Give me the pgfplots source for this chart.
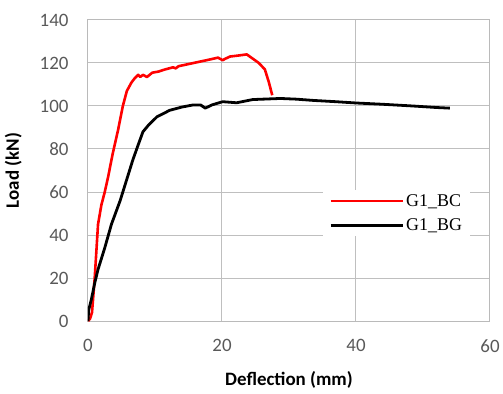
\documentclass[border=0pt]{standalone}
\usepackage{pgfplots}
\pgfplotsset{compat=1.18}
\usepackage{fontspec}
\setmainfont{Carlito}
\newfontfamily\legfont{Liberation Serif}
\colorlet{gridc}{black!25}
\colorlet{axc}{black!27}
\colorlet{tickc}{black!65}
\begin{document}
\begin{tikzpicture}
\path[use as bounding box] (-88bp,-73bp) rectangle (415bp,321bp);
\begin{axis}[
  at={(0,0)}, anchor=south west,
  scale only axis, width=402bp, height=301bp,
  xmin=0, xmax=60, ymin=0, ymax=140,
  xtick={0,20,40,60}, ytick={0,20,40,60,80,100,120,140},
  grid=major,
  grid style={draw=gridc, line width=1bp},
  axis line style={draw=axc, line width=1bp},
  major tick length=0pt,
  ticklabel style={font=\fontsize{19}{22}\selectfont, text=tickc},
  /pgf/number format/assume math mode=true,
  xticklabel style={yshift=-15bp},
  yticklabel style={xshift=-16bp},
  xlabel={\bfseries Deflection (mm)},
  ylabel={\bfseries Load (kN)},
  label style={font=\fontsize{19}{22}\selectfont\bfseries},
  xlabel style={yshift=-12bp},
  ylabel style={yshift=11bp},
  legend style={at={(0.585,0.435)}, anchor=north west, draw=none, fill=white,
    font=\legfont\fontsize{18}{21}\selectfont, row sep=7bp, inner xsep=6bp},
  legend cell align=left,
  legend image code/.code={\draw[#1] (0bp,0bp) -- (57bp,0bp); \path (0bp,0bp) -- (72bp,0bp);},
]
\addplot[red, line width=2.6bp, line join=round] coordinates {
(0,0) (0.3,1) (0.6,4) (0.8,12) (1.0,20) (1.3,35) (1.5,45) (2.0,54) (2.5,60)
(3.0,67) (3.7,78) (4.5,89) (5.2,100) (5.8,107) (6.5,111) (7.0,113) (7.5,114.5)
(7.8,113.5) (8.2,114.5) (8.8,113.5) (9.6,115.5) (10.5,116) (11.5,117) (12.7,118)
(13.1,117.5) (13.5,118.5) (15,119.5) (16.5,120.5) (18,121.5) (19.4,122.5)
(20.1,121.3) (20.5,122) (21.2,123) (22.5,123.5) (23.7,124) (24.6,122) (25.5,120)
(26.4,117) (27,111) (27.5,105)
};
\addlegendentry{G1\_BC}
\addplot[black, line width=2.8bp, line join=round] coordinates {
(0,0) (0.1,5) (0.5,10) (1,17.6) (1.5,24) (2.5,34) (3.5,45) (4.8,56) (5.7,65)
(6.7,75) (7.5,82) (8.2,88) (9,91) (10.3,95) (12.2,98) (14,99.5) (15.7,100.5)
(16.8,100.5) (17.5,99) (18.5,100.5) (20.1,102) (22.2,101.5) (24.6,103) (28.7,103.5)
(31,103.2) (33.6,102.6) (37,102) (40,101.4) (44,100.8) (48.5,100) (52,99.3) (54,99)
};
\addlegendentry{G1\_BG}
\end{axis}
\end{tikzpicture}
\end{document}
